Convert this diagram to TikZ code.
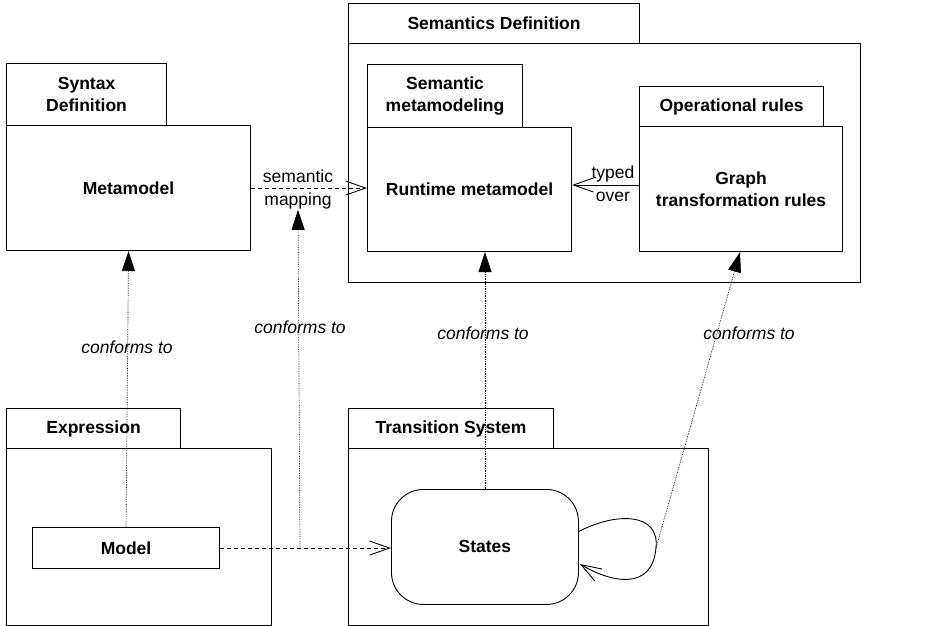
\documentclass[tikz,border=0pt]{standalone}
\usepackage{fontspec}
\setmainfont{Liberation Sans}
\usetikzlibrary{arrows.meta}
\begin{document}
\begin{tikzpicture}[x=1pt,y=-1pt,
  font=\fontsize{17}{22}\selectfont,
  box/.style={draw=black,line width=1.1pt,inner sep=0pt,anchor=north west,align=center,font=\fontsize{17.5}{22}\selectfont\bfseries},
  conf/.style={densely dotted,line width=0.7pt,-{Triangle[length=20pt,width=13pt]}},
  dep/.style={dashed,dash pattern=on 4pt off 3pt,line width=0.9pt,-{Straight Barb[length=20pt,width=14pt,line width=0.9pt]}},
  typ/.style={line width=0.9pt,-{Straight Barb[length=20pt,width=14pt,line width=0.9pt]}},
  lbl/.style={align=center,inner sep=1pt,font=\fontsize{17.5}{23}\selectfont},
  ilbl/.style={font=\fontsize{17.5}{20}\selectfont\itshape,inner sep=1pt}]
\useasboundingbox (0,0) rectangle (927,626);
% Syntax definition
\node[box,minimum width=160pt,minimum height=62pt] (sdtab) at (6,63) {Syntax\\Definition};
\node[box,minimum width=244pt,minimum height=125pt] (meta) at (6,125) {Metamodel};
% Semantics definition
\node[box,minimum width=291pt,minimum height=40pt] (semtab) at (348,3) {Semantics Definition};
\node[box,minimum width=512pt,minimum height=239pt] (sem) at (348,43) {};
\node[box,minimum width=155pt,minimum height=63pt] (smtab) at (367,64) {Semantic\\metamodeling};
\node[box,minimum width=204pt,minimum height=124pt] (rt) at (367,127) {Runtime metamodel};
\node[box,minimum width=184pt,minimum height=40pt] (optab) at (639,86) {Operational rules};
\node[box,minimum width=203pt,minimum height=125pt] (gtr) at (639,126) {Graph\\transformation rules};
% Expression
\node[box,minimum width=174pt,minimum height=40pt] (extab) at (6,408) {Expression};
\node[box,minimum width=265pt,minimum height=177pt] (ex) at (6,448) {};
\node[box,minimum width=187pt,minimum height=41pt] (model) at (32,527) {Model};
% Transition system
\node[box,minimum width=205pt,minimum height=40pt] (tstab) at (348,408) {Transition System};
\node[box,minimum width=360pt,minimum height=177pt] (ts) at (348,448) {};
\node[box,line width=0.9pt,rounded corners=32pt,minimum width=187pt,minimum height=115pt] (states) at (391,489) {States};
% semantic mapping
\draw[dep] (meta.east) -- (rt.west |- meta.east);
\node[lbl] (map) at (298,189) {semantic\\mapping};
% typed over
\draw[typ] (gtr.west |- 0,185) -- (rt.east |- 0,185);
\node[lbl] (typed) at (613,184) {typed\\over};
% model to states
\draw[dep] (model.east) -- (states.west |- model.east);
\coordinate (j) at (300,547);
\draw[conf] (j) -- (map.south);
\node[ilbl] at (300,327) {conforms to};
% conforms
\draw[conf] (model.north) -- (meta.south);
\node[ilbl] at (127,347) {conforms to};
\draw[conf] (states.north -| 485,0) -- (rt.south -| 485,0);
\node[ilbl] at (483,333) {conforms to};
% self loop
\coordinate (lp) at (656,548);
\draw[line width=0.9pt] (578,532) .. controls (615,512) and (660,512) .. (lp);
\draw[typ] (lp) .. controls (652,592) and (610,582) .. (580,564);
\draw[conf] (lp) -- (gtr.south -| 740,0);
\node[ilbl] at (749,333) {conforms to};
\end{tikzpicture}
\end{document}
